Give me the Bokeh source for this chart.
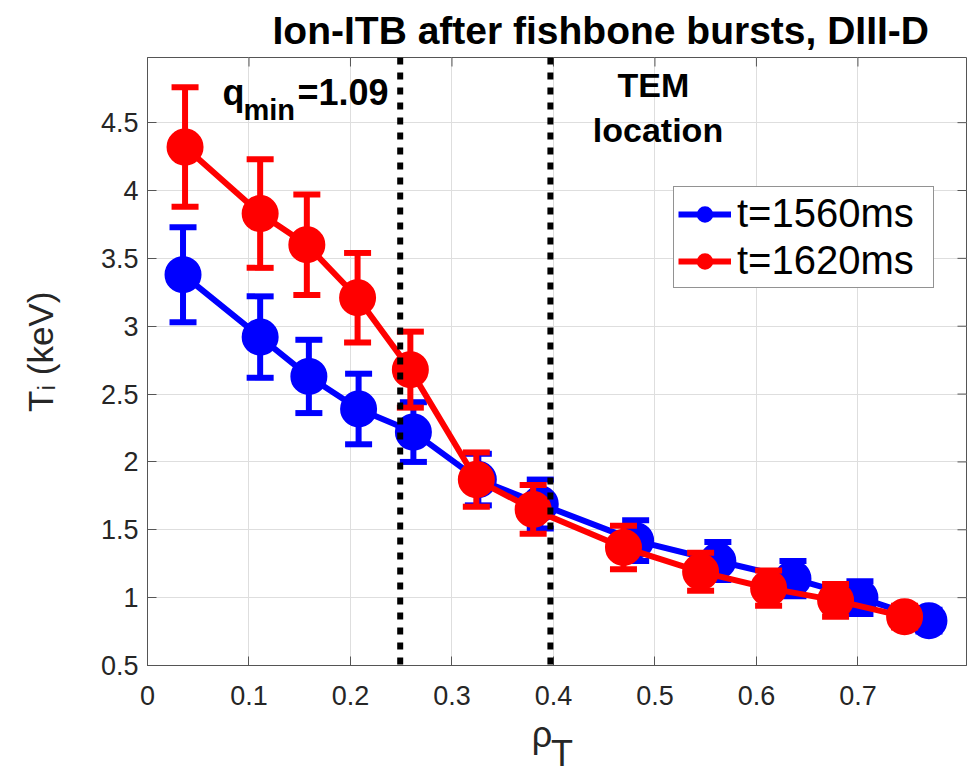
from bokeh.plotting import figure
from bokeh.models import (ColumnDataSource, Span, Label, Legend, LegendItem,
                          FixedTicker, Range1d, NumeralTickFormatter)
from bokeh.embed import file_html
from bokeh.resources import INLINE
import math

# ---------------- data ----------------
rho_1560 = [0.035, 0.111, 0.159, 0.208, 0.262, 0.326, 0.387, 0.481, 0.562, 0.636, 0.702, 0.770]
ti_1560 = [3.38, 2.92, 2.63, 2.39, 2.22, 1.87, 1.69, 1.42, 1.27, 1.14, 1.00, 0.83]
err_1560 = [0.35, 0.30, 0.27, 0.26, 0.22, 0.19, 0.18, 0.15, 0.14, 0.13, 0.12, 0.08]

rho_1620 = [0.037, 0.111, 0.157, 0.207, 0.259, 0.324, 0.380, 0.469, 0.545, 0.612, 0.678, 0.746]
ti_1620 = [4.32, 3.83, 3.60, 3.21, 2.68, 1.87, 1.65, 1.37, 1.19, 1.07, 0.98, 0.86]
err_1620 = [0.44, 0.40, 0.37, 0.33, 0.28, 0.20, 0.18, 0.16, 0.14, 0.13, 0.12, 0.08]

series_labels = ["t=1560ms", "t=1620ms"]
series_colors = ["#0000ff", "#ff0000"]

x_ticks = [0, 0.1, 0.2, 0.3, 0.4, 0.5, 0.6, 0.7]
y_ticks = [0.5, 1, 1.5, 2, 2.5, 3, 3.5, 4, 4.5]
x_lim = (0, 0.807)
y_lim = (0.5, 4.98)

qmin_loc = 0.249
tem_loc = 0.397

title_text = "Ion-ITB after fishbone bursts, DIII-D"
x_label = "\u03c1\u00a0\u00a0\u00a0\n\u00a0T"
y_label = "\u00a0\u00a0T\u1d62 (keV)"
FONT = "Liberation Sans"
DARK = "#262626"
EDGE = "#555555"

# ---------------- figure ----------------
p = figure(width=971, height=776, x_range=Range1d(*x_lim), y_range=Range1d(*y_lim),
           output_backend="svg", toolbar_location=None,
           min_border_left=147, min_border_right=5, min_border_top=56, min_border_bottom=109)
p.background_fill_color = "white"
p.border_fill_color = "white"
p.outline_line_color = EDGE
p.outline_line_width = 1

p.title.text = title_text
p.title.align = "left"
p.title.offset = 125
p.title.standoff = 12
p.title.text_font = FONT
p.title.text_font_size = "39px"
p.title.text_font_style = "bold"
p.title.text_color = "black"

for ax in (p.xaxis[0], p.yaxis[0]):
    ax.axis_line_color = EDGE
    ax.major_tick_line_color = EDGE
    ax.major_tick_in = 9
    ax.major_tick_out = 0
    ax.minor_tick_line_color = None
    ax.major_label_text_font = FONT
    ax.major_label_text_font_size = "27px"
    ax.major_label_text_color = DARK
    ax.formatter = NumeralTickFormatter(format="0.[0]")
    ax.axis_label_text_font = FONT
    ax.axis_label_text_font_style = "normal"
    ax.axis_label_text_color = DARK
p.xaxis[0].ticker = FixedTicker(ticks=x_ticks)
p.yaxis[0].ticker = FixedTicker(ticks=y_ticks)
p.xaxis[0].major_label_standoff = 20
p.yaxis[0].major_label_standoff = 9

p.yaxis[0].axis_label = y_label
p.yaxis[0].axis_label_text_font_size = "35px"
p.yaxis[0].axis_label_standoff = 38

p.xaxis[0].axis_label = x_label
p.xaxis[0].axis_label_text_font_size = "36px"
p.xaxis[0].axis_label_text_line_height = 0.47
p.xaxis[0].axis_label_standoff = 6

p.xgrid.ticker = FixedTicker(ticks=x_ticks)
p.ygrid.ticker = FixedTicker(ticks=y_ticks)
for g in (p.xgrid[0], p.ygrid[0]):
    g.grid_line_color = "#dedede"
    g.grid_line_width = 1

# box ticks on top / right edges (half of each dash is clipped by the frame)
p.scatter(x=[x_lim[1]] * len(y_ticks), y=y_ticks, marker="dash", size=18,
          line_color=EDGE, line_width=1)
p.scatter(x=x_ticks, y=[y_lim[1]] * len(x_ticks), marker="dash", size=18, angle=math.pi / 2,
          line_color=EDGE, line_width=1)

# ---------------- series ----------------
legend_items = []
for rho, ti, err, lab, col in ((rho_1560, ti_1560, err_1560, series_labels[0], series_colors[0]),
                               (rho_1620, ti_1620, err_1620, series_labels[1], series_colors[1])):
    lo = [t - e for t, e in zip(ti, err)]
    hi = [t + e for t, e in zip(ti, err)]
    src = ColumnDataSource(dict(x=rho, y=ti, lo=lo, hi=hi))
    p.segment(x0="x", y0="lo", x1="x", y1="hi", source=src, line_color=col, line_width=6)
    p.scatter(x="x", y="lo", source=src, marker="dash", size=27, line_color=col, line_width=6)
    p.scatter(x="x", y="hi", source=src, marker="dash", size=27, line_color=col, line_width=6)
    ln = p.line(x="x", y="y", source=src, line_color=col, line_width=6)
    mk = p.scatter(x="x", y="y", source=src, marker="circle", size=35,
                   fill_color=col, line_color=col, line_width=2)
    legend_items.append(LegendItem(label=lab, renderers=[ln, mk]))

# ---------------- vertical dotted markers ----------------
for loc in (qmin_loc, tem_loc):
    p.add_layout(Span(location=loc, dimension="height", line_color="black",
                      line_width=6, line_dash="7 8"))

# ---------------- legend ----------------
leg = Legend(items=legend_items, location=(526, 377), orientation="vertical",
             glyph_width=53, glyph_height=36, label_height=36, label_width=192,
             label_standoff=6, spacing=2, padding=4, margin=0,
             label_text_font=FONT, label_text_font_size="40px", label_text_color="black",
             border_line_color=DARK, border_line_width=1, background_fill_color="white",
             background_fill_alpha=1)
p.add_layout(leg)

# ---------------- text annotations ----------------
def lbl(x, y, text, size, align="left"):
    p.add_layout(Label(x=x, y=y, text=text, text_font=FONT, text_font_size=size,
                       text_font_style="bold", text_align=align,
                       text_baseline="alphabetic", text_color="black"))

# q_min = 1.09
lbl(0.0739, 4.724, "q", "36px")
lbl(0.0946, 4.592, "min", "29px")
lbl(0.1478, 4.724, "=1.09", "36px")
# TEM location
lbl(0.4985, 4.775, "TEM", "34px", align="center")
lbl(0.503, 4.445, "location", "34px", align="center")

open("out.html", "w").write(file_html(p, INLINE))
